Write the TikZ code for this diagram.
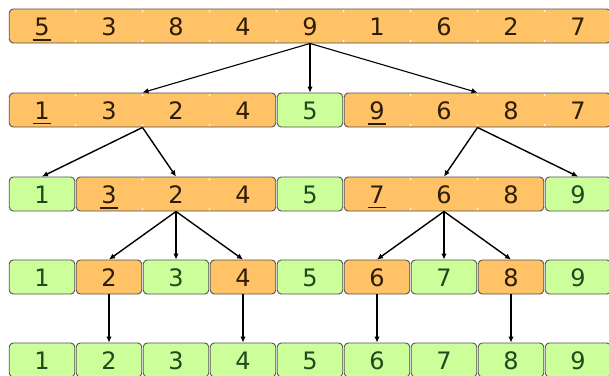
\documentclass[tikz,border=0pt]{standalone}
\usepackage{fontspec}
\setmainfont{DejaVu Sans}
\usetikzlibrary{arrows.meta}

\definecolor{segorange}{HTML}{FFC266}
\definecolor{seggreen}{HTML}{CCFF99}
\definecolor{segline}{HTML}{505050}
\definecolor{inkorange}{HTML}{2E1D06}
\definecolor{inkgreen}{HTML}{1E4A1E}

\tikzset{
  segbox/.style={draw=segline, line width=0.9pt, rounded corners=4pt,
                 minimum height=34pt, inner sep=0pt},
  hot/.style={segbox, fill=segorange},
  done/.style={segbox, fill=seggreen},
  digit/.style={inner sep=0pt, font=\fontsize{24}{29}\selectfont},
  dhot/.style={digit, text=inkorange},
  ddone/.style={digit, text=inkgreen},
  link/.style={-{Latex[length=6pt,width=5.5pt]}, line width=1.4pt, black},
  lightlink/.style={link, line width=1.1pt},
  heavylink/.style={link, line width=2.3pt},
  notch/.style={white},
  pivotline/.style={line width=1.8pt},
}

% \segment{name}{first cell}{cell count}{row top}{style}
% cells are 67 wide, the first one starts at x = 9
\newcommand\segment[5]{%
  \node[#5, minimum width={67*#3-1.5}] (#1)
    at ({9+67*(#2-1)+67*#3/2-0.5}, {#4+17}) {};
  \ifnum#3>1
    \foreach \k in {1,...,\numexpr#3-1\relax}{
      \fill[notch] ({9+67*(#2-1+\k)-0.5}, {#4+2}) circle (1pt);
      \fill[notch] ({9+67*(#2-1+\k)-0.5}, {#4+32}) circle (1pt);
    }
  \fi
}

\begin{document}
\begin{tikzpicture}[x=1pt, y=-1pt]
\useasboundingbox (0,0) rectangle (609,375);
\clip (0,0) rectangle (609,375);
\fill[white] (0,0) rectangle (609,375);

% ---- row 1: the whole array
\segment{sA}{1}{9}{9}{hot}
% ---- row 2
\segment{sB1}{1}{4}{93}{hot}
\segment{sB2}{5}{1}{93}{done}
\segment{sB3}{6}{4}{93}{hot}
% ---- row 3
\segment{sC1}{1}{1}{177}{done}
\segment{sC2}{2}{3}{177}{hot}
\segment{sC3}{5}{1}{177}{done}
\segment{sC4}{6}{3}{177}{hot}
\segment{sC5}{9}{1}{177}{done}
% ---- row 4
\segment{sD1}{1}{1}{260}{done}
\segment{sD2}{2}{1}{260}{hot}
\segment{sD3}{3}{1}{260}{done}
\segment{sD4}{4}{1}{260}{hot}
\segment{sD5}{5}{1}{260}{done}
\segment{sD6}{6}{1}{260}{hot}
\segment{sD7}{7}{1}{260}{done}
\segment{sD8}{8}{1}{260}{hot}
\segment{sD9}{9}{1}{260}{done}
% ---- row 5: sorted
\foreach \i in {1,...,9}{
  \segment{sE\i}{\i}{1}{343}{done}
}

% ---- digits
\foreach \v [count=\i] in {5,3,8,4,9,1,6,2,7}
  \node[dhot] (dA\i) at ({9+67*\i-34}, 26.5) {\v};

\foreach \v/\s [count=\i] in {1/dhot,3/dhot,2/dhot,4/dhot,5/ddone,9/dhot,6/dhot,8/dhot,7/dhot}
  \node[\s] (dB\i) at ({9+67*\i-34}, 110.5) {\v};

\foreach \v/\s [count=\i] in {1/ddone,3/dhot,2/dhot,4/dhot,5/ddone,7/dhot,6/dhot,8/dhot,9/ddone}
  \node[\s] (dC\i) at ({9+67*\i-34}, 194.5) {\v};

\foreach \v/\s [count=\i] in {1/ddone,2/dhot,3/ddone,4/dhot,5/ddone,6/dhot,7/ddone,8/dhot,9/ddone}
  \node[\s] (dD\i) at ({9+67*\i-34}, 277.5) {\v};

\foreach \i in {1,...,9}
  \node[ddone] (dE\i) at ({9+67*\i-34}, 360.5) {\i};

% ---- pivots underlined
\foreach \d in {dA1,dB1,dB6,dC2,dC6}
  \draw[pivotline, inkorange] ([xshift=-1.5pt,yshift=-4pt]\d.south west)
                              -- ([xshift=1.5pt,yshift=-4pt]\d.south east);

% ---- partition steps
\draw[lightlink] (sA.south) -- (sB1.north);
\draw[lightlink] (sA.south) -- (sB2.north);
\draw[lightlink] (sA.south) -- (sB3.north);

\draw[link] (sB1.south) -- (sC1.north);
\draw[link] (sB1.south) -- (sC2.north);
\draw[link] (sB3.south) -- (sC4.north);
\draw[link] (sB3.south) -- (sC5.north);

\draw[link] (sC2.south) -- (sD2.north);
\draw[link] (sC2.south) -- (sD3.north);
\draw[link] (sC2.south) -- (sD4.north);
\draw[link] (sC4.south) -- (sD6.north);
\draw[link] (sC4.south) -- (sD7.north);
\draw[link] (sC4.south) -- (sD8.north);

\draw[link]      (sD2.south) -- (sE2.north);
\draw[heavylink] (sD4.south) -- (sE4.north);
\draw[link]      (sD6.south) -- (sE6.north);
\draw[heavylink] (sD8.south) -- (sE8.north);
\end{tikzpicture}
\end{document}
